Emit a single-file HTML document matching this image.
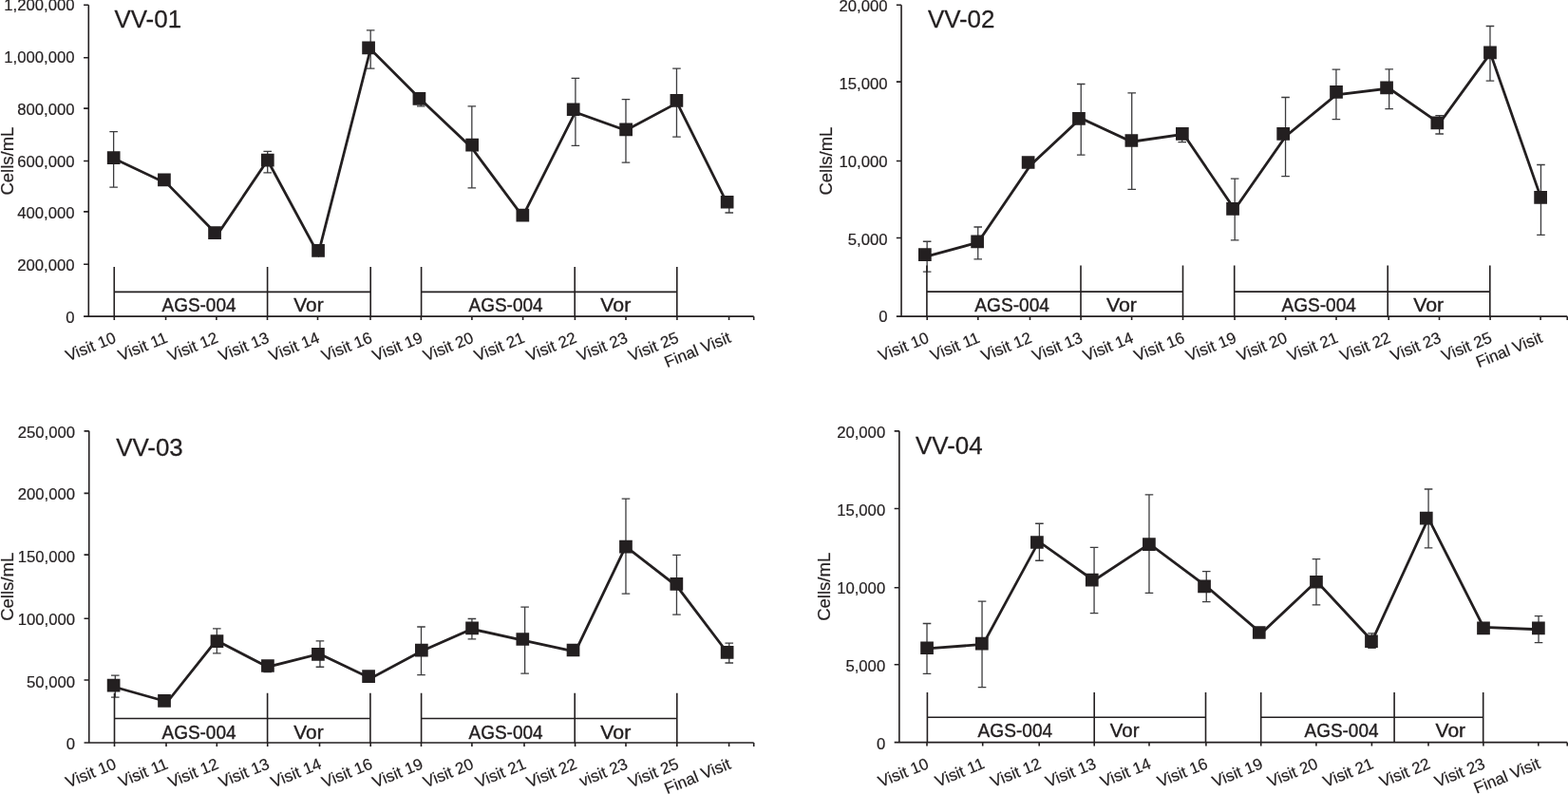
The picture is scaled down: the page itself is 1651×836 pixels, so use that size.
<!DOCTYPE html>
<html lang="en">
<head>
<meta charset="utf-8">
<title>Cells/mL by visit: VV-01, VV-02, VV-03, VV-04</title>
<style>
html,body{margin:0;padding:0;background:#ffffff;}
body{width:1651px;height:836px;overflow:hidden;}
svg{display:block;}
text{white-space:pre;stroke:#231f20;stroke-width:0.2px;stroke-linejoin:round;}
.b text{stroke-width:0.4px;}
text.t{stroke-width:0.3px;}
</style>
</head>
<body>
<svg width="1651" height="836" viewBox="0 0 1651 836" role="img" aria-label="Cells/mL by study visit for participants VV-01, VV-02, VV-03 and VV-04" font-family="'Liberation Sans', sans-serif" fill="#231f20" stroke="none">
<rect x="0" y="0" width="1651" height="836" fill="#ffffff"/>
<g>
<path d="M119.63 138.6V197.1M115.33 138.6H123.93M115.33 197.1H123.93M281.73 159.32V181.95M277.43 159.32H286.03M277.43 181.95H286.03M390.18 31.94V72.2M385.88 31.94H394.48M385.88 72.2H394.48M443.28 100V111.86M438.98 100H447.58M438.98 111.86H447.58M496.83 111.9V197.9M492.53 111.9H501.13M492.53 197.9H501.13M605.91 82.4V153.4M601.61 82.4H610.21M601.61 153.4H610.21M658.98 104.6V171.2M654.68 104.6H663.28M654.68 171.2H663.28M712.46 72.2V144.2M708.16 72.2H716.76M708.16 144.2H716.76M767.77 208V224M763.47 208H772.07M763.47 224H772.07" fill="none" stroke="#3c3c3e" stroke-width="1.3"/>
<path d="M93.3 5.2V333.15H793.68M88.1 333.15H93.3M88.1 278.3H93.3M88.1 222.85H93.3M88.1 169.55H93.3M88.1 114.1H93.3M88.1 60.8H93.3M88.1 5.2H93.3M120.3 333.15V337.05M174.55 333.15V337.05M227.9 333.15V337.05M281.5 333.15V337.05M334.5 333.15V337.05M390 333.15V337.05M443.4 333.15V337.05M496.9 333.15V337.05M550.6 333.15V337.05M605.4 333.15V337.05M659 333.15V337.05M712.9 333.15V337.05M767.58 333.15V337.05M793.68 333.15V337.05M120.25 307.4H390.2M120.25 280.9V333.15M281.6 280.9V333.15M390.2 280.9V333.15M443.6 307.4H712.8M443.6 280.9V333.15M605.2 280.9V333.15M712.8 280.9V333.15" fill="none" stroke="#231f20" stroke-width="1.6"/>
<polyline points="119.63,166.83 176.3,193.6 228.75,247.3 281.73,168.75 335.1,267.5 390.13,51.68 443.28,105 496.6,155.5 550.37,227.86 605.73,118.18 659,137.2 713.05,108.33 767.77,218.4" fill="none" stroke="#231f20" stroke-width="2.8" stroke-linejoin="miter"/>
<path d="M112.83 159.26h13.7v13.7h-13.7zM166.08 182.52h13.7v13.7h-13.7zM219.2 238.27h13.7v13.7h-13.7zM274.95 161.85h13.7v13.7h-13.7zM328.2 257.01h13.7v13.7h-13.7zM381.23 43.57h13.7v13.7h-13.7zM434.57 96.97h13.7v13.7h-13.7zM490.27 145.73h13.7v13.7h-13.7zM543.49 219.85h13.7v13.7h-13.7zM596.83 108.4h13.7v13.7h-13.7zM652.27 129.53h13.7v13.7h-13.7zM705.56 99.07h13.7v13.7h-13.7zM758.79 205.92h13.7v13.7h-13.7z" fill="#231f20"/>
<g font-size="16.7" text-anchor="end">
<text x="78.6" y="339.53">0</text>
<text x="78.6" y="284.85">200,000</text>
<text x="78.6" y="230.17">400,000</text>
<text x="78.6" y="175.53">600,000</text>
<text x="78.6" y="121.2">800,000</text>
<text x="78.6" y="66.14">1,000,000</text>
<text x="78.6" y="11.41">1,200,000</text>
</g>
<text font-size="18.5" text-anchor="middle" transform="translate(14.2 169.6) rotate(-90)">Cells/mL</text>
<text class="t" font-size="25.9" x="120.5" y="28.9">VV-01</text>
<g class="b" font-size="20">
<text x="170.5" y="327.8" textLength="78" lengthAdjust="spacingAndGlyphs">AGS-004</text>
<text x="309.3" y="327.8" textLength="31.3" lengthAdjust="spacingAndGlyphs">Vor</text>
<text x="493.6" y="327.8" textLength="77.9" lengthAdjust="spacingAndGlyphs">AGS-004</text>
<text x="632.3" y="327.8" textLength="32" lengthAdjust="spacingAndGlyphs">Vor</text>
</g>
<g font-size="17" text-anchor="end">
<text transform="translate(123.3 359.85) rotate(-22)">Visit 10</text>
<text transform="translate(177.55 359.85) rotate(-22)">Visit 11</text>
<text transform="translate(230.9 359.85) rotate(-22)">Visit 12</text>
<text transform="translate(284.5 359.85) rotate(-22)">Visit 13</text>
<text transform="translate(337.5 359.85) rotate(-22)">Visit 14</text>
<text transform="translate(393 359.85) rotate(-22)">Visit 16</text>
<text transform="translate(446.4 359.85) rotate(-22)">Visit 19</text>
<text transform="translate(499.9 359.85) rotate(-22)">Visit 20</text>
<text transform="translate(553.6 359.85) rotate(-22)">Visit 21</text>
<text transform="translate(608.4 359.85) rotate(-22)">Visit 22</text>
<text transform="translate(662 359.85) rotate(-22)">Visit 23</text>
<text transform="translate(715.9 359.85) rotate(-22)">Visit 25</text>
<text transform="translate(770.58 359.85) rotate(-22)">Final Visit</text>
</g>
</g>
<g>
<path d="M976.14 254.26V286.06M971.84 254.26H980.44M971.84 286.06H980.44M1029.74 239V272.86M1025.44 239H1034.04M1025.44 272.86H1034.04M1138.23 88.5V163.1M1133.93 88.5H1142.53M1133.93 163.1H1142.53M1191.71 97.9V199.4M1187.41 97.9H1196.01M1187.41 199.4H1196.01M1244.7 136V149.59M1240.4 136H1249M1240.4 149.59H1249M1300.15 188.2V252.9M1295.85 188.2H1304.45M1295.85 252.9H1304.45M1353.54 102.5V185.7M1349.24 102.5H1357.84M1349.24 185.7H1357.84M1406.92 73.03V125.7M1402.62 73.03H1411.22M1402.62 125.7H1411.22M1462.65 72.9V114.7M1458.35 72.9H1466.95M1458.35 114.7H1466.95M1515.64 121.63V141M1511.34 121.63H1519.94M1511.34 141H1519.94M1568.97 27.5V85.2M1564.67 27.5H1573.27M1564.67 85.2H1573.27M1622.46 173.5V247.3M1618.16 173.5H1626.76M1618.16 247.3H1626.76" fill="none" stroke="#3c3c3e" stroke-width="1.3"/>
<path d="M949.05 5.2V333.15H1650.25M943.85 333.15H949.05M943.85 250.57H949.05M943.85 169.54H949.05M943.85 86.09H949.05M943.85 5.2H949.05M976.2 333.15V337.05M1029.8 333.15V337.05M1084.5 333.15V337.05M1138.1 333.15V337.05M1191.6 333.15V337.05M1245.5 333.15V337.05M1300 333.15V337.05M1353.6 333.15V337.05M1407 333.15V337.05M1462.2 333.15V337.05M1515.5 333.15V337.05M1569.1 333.15V337.05M1622.1 333.15V337.05M1650.25 333.15V337.05M975.9 307.1H1245.5M975.9 279.5V333.15M1138 279.5V333.15M1245.5 279.5V333.15M1299.7 307.1H1568.8M1299.7 279.5V333.15M1461.2 279.5V333.15M1568.8 279.5V333.15" fill="none" stroke="#231f20" stroke-width="1.6"/>
<polyline points="976.14,269.85 1029.74,255.3 1085,173.9 1138,124.5 1191.5,149.2 1246.2,141.3 1300,220.6 1353.8,143.4 1406.9,99.9 1462.65,93 1515.65,129.8 1569.3,56.1 1622.46,208.1" fill="none" stroke="#231f20" stroke-width="2.8" stroke-linejoin="miter"/>
<path d="M967.01 261.19h13.7v13.7h-13.7zM1022.28 247.5h13.7v13.7h-13.7zM1075.78 164.14h13.7v13.7h-13.7zM1129.11 117.93h13.7v13.7h-13.7zM1184.53 141.13h13.7v13.7h-13.7zM1238 134.02h13.7v13.7h-13.7zM1291.2 212.97h13.7v13.7h-13.7zM1344.32 134.02h13.7v13.7h-13.7zM1400.17 90.1h13.7v13.7h-13.7zM1453.22 85.47h13.7v13.7h-13.7zM1506.49 122.53h13.7v13.7h-13.7zM1562.12 48.53h13.7v13.7h-13.7zM1615.27 201.06h13.7v13.7h-13.7z" fill="#231f20"/>
<g font-size="16.7" text-anchor="end">
<text x="934.5" y="339.47">0</text>
<text x="934.5" y="257.89">5,000</text>
<text x="934.5" y="175.72">10,000</text>
<text x="934.5" y="93.72">15,000</text>
<text x="934.5" y="11.62">20,000</text>
</g>
<text font-size="18.5" text-anchor="middle" transform="translate(876.2 169.6) rotate(-90)">Cells/mL</text>
<text class="t" font-size="25.9" x="976.9" y="28.9">VV-02</text>
<g class="b" font-size="20">
<text x="1026.3" y="327.6" textLength="78.6" lengthAdjust="spacingAndGlyphs">AGS-004</text>
<text x="1164.9" y="327.6" textLength="32.1" lengthAdjust="spacingAndGlyphs">Vor</text>
<text x="1349.5" y="327.6" textLength="78.4" lengthAdjust="spacingAndGlyphs">AGS-004</text>
<text x="1488.2" y="327.6" textLength="32" lengthAdjust="spacingAndGlyphs">Vor</text>
</g>
<g font-size="17" text-anchor="end">
<text transform="translate(979.2 359.85) rotate(-22)">Visit 10</text>
<text transform="translate(1032.8 359.85) rotate(-22)">Visit 11</text>
<text transform="translate(1087.5 359.85) rotate(-22)">Visit 12</text>
<text transform="translate(1141.1 359.85) rotate(-22)">Visit 13</text>
<text transform="translate(1194.6 359.85) rotate(-22)">Visit 14</text>
<text transform="translate(1248.5 359.85) rotate(-22)">Visit 16</text>
<text transform="translate(1303 359.85) rotate(-22)">Visit 19</text>
<text transform="translate(1356.6 359.85) rotate(-22)">Visit 20</text>
<text transform="translate(1410 359.85) rotate(-22)">Visit 21</text>
<text transform="translate(1465.2 359.85) rotate(-22)">Visit 22</text>
<text transform="translate(1518.5 359.85) rotate(-22)">Visit 23</text>
<text transform="translate(1572.1 359.85) rotate(-22)">Visit 25</text>
<text transform="translate(1625.1 359.85) rotate(-22)">Final Visit</text>
</g>
</g>
<g>
<path d="M121.3 711.06V734.07M117 711.06H125.6M117 734.07H125.6M228.32 661.9V687.83M224.02 661.9H232.62M224.02 687.83H232.62M281.7 696V707.6M277.4 696H286M277.4 707.6H286M336.95 674.8V702.23M332.65 674.8H341.25M332.65 702.23H341.25M443.5 659.99V710.7M439.2 659.99H447.8M439.2 710.7H447.8M496.92 651.51V672.95M492.62 651.51H501.22M492.62 672.95H501.22M552.62 639.2V709.2M548.32 639.2H556.92M548.32 709.2H556.92M658.97 525.1V625.1M654.67 525.1H663.27M654.67 625.1H663.27M712.46 584.4V647.1M708.16 584.4H716.76M708.16 647.1H716.76M767.77 677.03V698M763.47 677.03H772.07M763.47 698H772.07" fill="none" stroke="#3c3c3e" stroke-width="1.3"/>
<path d="M93.75 453.85V782H793.7M88.55 782H93.75M88.55 716.05H93.75M88.55 651.3H93.75M88.55 584.1H93.75M88.55 519.35H93.75M88.55 453.85H93.75M120.5 782V785.9M175 782V785.9M228.3 782V785.9M281.7 782V785.9M336.5 782V785.9M390.2 782V785.9M443.5 782V785.9M496.9 782V785.9M552 782V785.9M605.6 782V785.9M659 782V785.9M712.8 782V785.9M767.6 782V785.9M793.7 782V785.9M120.5 756.5H389.9M120.5 729.8V782M281.6 729.8V782M389.9 729.8V782M443.6 756.5H712.8M443.6 729.8V782M605.2 729.8V782M712.8 729.8V782" fill="none" stroke="#231f20" stroke-width="1.6"/>
<polyline points="121.2,723.5 176.25,739 227.7,674.3 281.9,702.2 336.4,688.4 390.3,714.3 443.5,685.7 496.92,662.3 552.62,674.7 605.8,686.2 658.83,575.3 712.9,617.3 767.77,689.7" fill="none" stroke="#231f20" stroke-width="2.8" stroke-linejoin="miter"/>
<path d="M112.77 714.75h13.7v13.7h-13.7zM166.16 731.07h13.7v13.7h-13.7zM221.62 668.32h13.7v13.7h-13.7zM275.07 694.15h13.7v13.7h-13.7zM328.08 682.02h13.7v13.7h-13.7zM381.25 705.34h13.7v13.7h-13.7zM437.01 677.7h13.7v13.7h-13.7zM490.22 654.48h13.7v13.7h-13.7zM543.47 666.17h13.7v13.7h-13.7zM596.68 677.65h13.7v13.7h-13.7zM652.12 568.85h13.7v13.7h-13.7zM705.49 608.02h13.7v13.7h-13.7zM758.79 680.02h13.7v13.7h-13.7z" fill="#231f20"/>
<g font-size="16.7" text-anchor="end">
<text x="79.1" y="789.29">0</text>
<text x="79.1" y="723.58">50,000</text>
<text x="79.1" y="657.86">100,000</text>
<text x="79.1" y="592.15">150,000</text>
<text x="79.1" y="526.43">200,000</text>
<text x="79.1" y="460.72">250,000</text>
</g>
<text font-size="18.5" text-anchor="middle" transform="translate(14.2 617.8) rotate(-90)">Cells/mL</text>
<text class="t" font-size="25.9" x="122.2" y="480">VV-03</text>
<g class="b" font-size="20">
<text x="170.5" y="777.7" textLength="78" lengthAdjust="spacingAndGlyphs">AGS-004</text>
<text x="309.3" y="777.7" textLength="31.3" lengthAdjust="spacingAndGlyphs">Vor</text>
<text x="493.6" y="777.7" textLength="77.9" lengthAdjust="spacingAndGlyphs">AGS-004</text>
<text x="632.3" y="777.7" textLength="32" lengthAdjust="spacingAndGlyphs">Vor</text>
</g>
<g font-size="17" text-anchor="end">
<text transform="translate(123.5 808.7) rotate(-22)">Visit 10</text>
<text transform="translate(178 808.7) rotate(-22)">Visit 11</text>
<text transform="translate(231.3 808.7) rotate(-22)">Visit 12</text>
<text transform="translate(284.7 808.7) rotate(-22)">Visit 13</text>
<text transform="translate(339.5 808.7) rotate(-22)">Visit 14</text>
<text transform="translate(393.2 808.7) rotate(-22)">Visit 16</text>
<text transform="translate(446.5 808.7) rotate(-22)">Visit 19</text>
<text transform="translate(499.9 808.7) rotate(-22)">Visit 20</text>
<text transform="translate(555 808.7) rotate(-22)">Visit 21</text>
<text transform="translate(608.6 808.7) rotate(-22)">Visit 22</text>
<text transform="translate(662 808.7) rotate(-22)">visit 23</text>
<text transform="translate(715.8 808.7) rotate(-22)">Visit 25</text>
<text transform="translate(770.6 808.7) rotate(-22)">Final Visit</text>
</g>
</g>
<g>
<path d="M976.02 656.51V709.3M971.72 656.51H980.32M971.72 709.3H980.32M1034.04 633.2V723.7M1029.74 633.2H1038.34M1029.74 723.7H1038.34M1094.4 551.24V590.25M1090.1 551.24H1098.7M1090.1 590.25H1098.7M1152.06 576.3V645.6M1147.76 576.3H1156.36M1147.76 645.6H1156.36M1209.97 520.8V624.4M1205.67 520.8H1214.27M1205.67 624.4H1214.27M1270.25 601.63V633.61M1265.95 601.63H1274.55M1265.95 633.61H1274.55M1385.97 588.7V636.8M1381.67 588.7H1390.27M1381.67 636.8H1390.27M1444.5 666.87V682.37M1440.2 666.87H1448.8M1440.2 682.37H1448.8M1504.06 515V576.8M1499.76 515H1508.36M1499.76 576.8H1508.36M1620.04 648.72V676.7M1615.74 648.72H1624.34M1615.74 676.7H1624.34" fill="none" stroke="#3c3c3e" stroke-width="1.3"/>
<path d="M946.87 453.85V781.63H1650.25M941.67 781.63H946.87M941.67 699.81H946.87M941.67 618.78H946.87M941.67 535.57H946.87M941.67 453.85H946.87M976 781.63V785.53M1034.7 781.63V785.53M1094.2 781.63V785.53M1152.2 781.63V785.53M1210 781.63V785.53M1269.9 781.63V785.53M1327.7 781.63V785.53M1385.9 781.63V785.53M1444.4 781.63V785.53M1504 781.63V785.53M1561.9 781.63V785.53M1619.84 781.63V785.53M1650.25 781.63V785.53M976.4 755.2H1269.5M976.4 729V781.63M1152.2 729V781.63M1269.5 729V781.63M1327.7 755.2H1561.7M1327.7 729V781.63M1468.1 729V781.63M1561.7 729V781.63" fill="none" stroke="#231f20" stroke-width="1.6"/>
<polyline points="976.02,682.8 1035.1,678.5 1093.8,570.2 1151.7,611.2 1210.3,572.7 1270.25,617.3 1328.05,666.75 1386.3,612 1444.7,674.75 1504,545.6 1562.1,660.45 1620.04,662.75" fill="none" stroke="#231f20" stroke-width="2.8" stroke-linejoin="miter"/>
<path d="M969.2 675.41h13.7v13.7h-13.7zM1026.98 670.71h13.7v13.7h-13.7zM1085.05 564.14h13.7v13.7h-13.7zM1142.93 603.77h13.7v13.7h-13.7zM1203.05 566.21h13.7v13.7h-13.7zM1261.2 610.53h13.7v13.7h-13.7zM1318.93 659.14h13.7v13.7h-13.7zM1379.12 605.89h13.7v13.7h-13.7zM1437.12 668.38h13.7v13.7h-13.7zM1494.93 538.72h13.7v13.7h-13.7zM1555.14 654.53h13.7v13.7h-13.7zM1613.04 654.59h13.7v13.7h-13.7z" fill="#231f20"/>
<g font-size="16.7" text-anchor="end">
<text x="932.2" y="788.62">0</text>
<text x="932.2" y="706.64">5,000</text>
<text x="932.2" y="624.67">10,000</text>
<text x="932.2" y="542.7">15,000</text>
<text x="932.2" y="460.72">20,000</text>
</g>
<text font-size="18.5" text-anchor="middle" transform="translate(873.7 617.8) rotate(-90)">Cells/mL</text>
<text class="t" font-size="25.9" x="964.1" y="478.2">VV-04</text>
<g class="b" font-size="20">
<text x="1029.6" y="776.4" textLength="78.6" lengthAdjust="spacingAndGlyphs">AGS-004</text>
<text x="1168.8" y="776.4" textLength="30.7" lengthAdjust="spacingAndGlyphs">Vor</text>
<text x="1373.5" y="776.4" textLength="78" lengthAdjust="spacingAndGlyphs">AGS-004</text>
<text x="1511.6" y="776.4" textLength="31.5" lengthAdjust="spacingAndGlyphs">Vor</text>
</g>
<g font-size="17" text-anchor="end">
<text transform="translate(979 808.33) rotate(-22)">Visit 10</text>
<text transform="translate(1037.7 808.33) rotate(-22)">Visit 11</text>
<text transform="translate(1097.2 808.33) rotate(-22)">Visit 12</text>
<text transform="translate(1155.2 808.33) rotate(-22)">Visit 13</text>
<text transform="translate(1213 808.33) rotate(-22)">Visit 14</text>
<text transform="translate(1272.9 808.33) rotate(-22)">Visit 16</text>
<text transform="translate(1330.7 808.33) rotate(-22)">Visit 19</text>
<text transform="translate(1388.9 808.33) rotate(-22)">Visit 20</text>
<text transform="translate(1447.4 808.33) rotate(-22)">Visit 21</text>
<text transform="translate(1507 808.33) rotate(-22)">Visit 22</text>
<text transform="translate(1564.9 808.33) rotate(-22)">Visit 23</text>
<text transform="translate(1622.84 808.33) rotate(-22)">Final Visit</text>
</g>
</g>
</svg>
</body>
</html>
